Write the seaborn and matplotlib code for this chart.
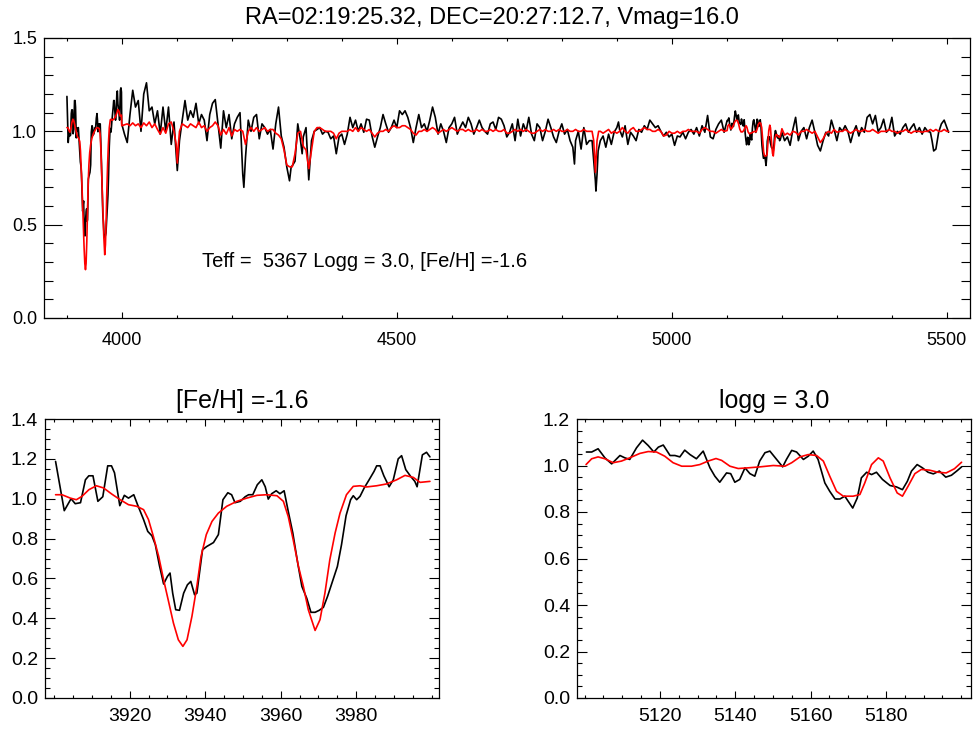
import matplotlib
matplotlib.use("Agg")
import matplotlib.pyplot as plt
import seaborn as sns
from matplotlib.ticker import MultipleLocator, FixedLocator, FormatStrFormatter

# ---------------- data ----------------
title_main = "RA=02:19:25.32, DEC=20:27:12.7, Vmag=16.0"
title_ca = "[Fe/H] =-1.6"
title_mg = "logg = 3.0"
param_text = "Teff =  5367 Logg = 3.0, [Fe/H] =-1.6"

# Ca II H&K region (observed, black)
ca_wave = [3900.4, 3902.7, 3904.5, 3905.6, 3907.0, 3908.3, 3909.2, 3910.3, 3911.6, 3912.9,
           3914.2, 3915.2, 3916.0, 3917.4, 3918.6, 3919.7, 3921.1, 3922.1, 3923.7, 3924.8,
           3925.9, 3926.8, 3927.9, 3929.0, 3930.0, 3930.7, 3931.4, 3932.2, 3933.2, 3934.3,
           3935.3, 3936.2, 3937.2, 3937.8, 3939.3, 3940.4, 3942.2, 3943.5, 3944.7, 3946.0,
           3947.0, 3947.9, 3949.3, 3950.6, 3951.5, 3952.6, 3953.8, 3955.0, 3955.9, 3956.7,
           3957.6, 3958.8, 3959.8, 3960.9, 3962.0, 3963.2, 3964.5, 3965.6, 3966.9, 3968.0,
           3969.1, 3970.2, 3971.3, 3972.4, 3973.7, 3975.0, 3976.1, 3977.3, 3978.5, 3979.2,
           3980.1, 3981.0, 3982.1, 3983.4, 3984.7, 3985.4, 3986.3, 3987.3, 3988.7, 3989.8,
           3991.1, 3992.0, 3993.1, 3994.4, 3995.5, 3996.1, 3997.5, 3998.6, 3999.5]
ca_obs = [1.187, 0.94, 1.0, 0.975, 0.98, 1.095, 1.115, 1.115, 0.987, 1.01,
          1.165, 1.165, 1.13, 0.965, 1.017, 1.003, 1.02, 0.97, 0.895, 0.836,
          0.814, 0.77, 0.664, 0.572, 0.61, 0.627, 0.526, 0.443, 0.44, 0.526,
          0.568, 0.585, 0.518, 0.526, 0.744, 0.76, 0.78, 0.82, 0.995, 1.03,
          1.02, 0.98, 0.987, 1.01, 1.02, 1.02, 1.07, 1.095, 1.06, 0.998,
          1.025, 1.04, 1.025, 1.04, 0.936, 0.828, 0.677, 0.56, 0.50, 0.43,
          0.43, 0.44, 0.455, 0.51, 0.585, 0.66, 0.77, 0.915, 0.995, 1.015,
          0.995, 1.012, 1.054, 1.095, 1.137, 1.165, 1.165, 1.115, 1.06, 1.095,
          1.2, 1.216, 1.146, 1.112, 1.087, 1.06, 1.22, 1.233, 1.21]
# Ca II H&K region (model, red)
ca_mod_wave = [3900.4, 3902.1, 3904.3, 3905.9, 3907.4, 3909.2, 3911.2, 3913.1, 3915.3, 3917.5,
               3919.7, 3921.9, 3923.7, 3925.0, 3926.3, 3927.7, 3929.0, 3930.3, 3931.6, 3932.9,
               3934.1, 3935.2, 3936.5, 3937.8, 3938.9, 3940.3, 3941.8, 3943.5, 3945.7, 3948.4,
               3951.0, 3953.7, 3956.3, 3959.0, 3960.7, 3962.0, 3963.3, 3964.7, 3966.0, 3967.3,
               3969.1, 3970.4, 3971.7, 3973.0, 3974.4, 3975.7, 3977.4, 3979.2, 3981.0, 3982.7,
               3985.4, 3988.0, 3990.7, 3992.9, 3995.1, 3996.9, 3999.5]
ca_mod = [1.02, 1.02, 1.003, 0.995, 1.012, 1.045, 1.065, 1.054, 1.023, 0.995,
          0.97, 0.962, 0.945, 0.895, 0.81, 0.71, 0.593, 0.485, 0.376, 0.292,
          0.259, 0.292, 0.41, 0.56, 0.71, 0.82, 0.886, 0.928, 0.962, 0.987,
          1.003, 1.017, 1.02, 1.015, 0.987, 0.91, 0.794, 0.66, 0.56, 0.443,
          0.339, 0.393, 0.526, 0.694, 0.828, 0.928, 1.02, 1.062, 1.065, 1.059,
          1.065, 1.074, 1.095, 1.117, 1.107, 1.082, 1.087]

# Mg b region (observed, black)
mg_wave = [5100.5, 5101.9, 5103.6, 5105.4, 5107.2, 5109.4, 5110.7, 5112.0, 5113.8, 5115.4,
           5116.9, 5118.4, 5119.6, 5120.9, 5122.7, 5124.0, 5125.3, 5126.6, 5128.0, 5129.7,
           5131.5, 5133.3, 5134.6, 5135.9, 5137.7, 5138.8, 5139.9, 5141.2, 5142.6, 5143.9,
           5145.2, 5146.5, 5147.9, 5149.2, 5151.0, 5152.6, 5153.6, 5155.0, 5156.3, 5158.1,
           5159.4, 5160.7, 5162.0, 5163.8, 5165.1, 5166.5, 5167.8, 5169.1, 5170.0, 5171.2,
           5172.4, 5173.5, 5174.9, 5176.2, 5177.5, 5179.1, 5181.1, 5182.8, 5184.4, 5185.7,
           5186.8, 5188.3, 5189.7, 5191.2, 5192.6, 5194.2, 5195.9, 5197.4, 5198.8, 5200.1]
mg_obs = [1.058, 1.058, 1.072, 1.033, 1.007, 1.043, 1.033, 1.026, 1.076, 1.109,
          1.086, 1.058, 1.079, 1.088, 1.043, 1.043, 1.037, 1.066, 1.047, 1.029,
          1.062, 0.99, 0.954, 0.928, 0.968, 0.965, 0.928, 0.94, 0.99, 0.965,
          0.954, 1.019, 1.055, 1.062, 1.026, 0.994, 1.026, 1.065, 1.058, 1.026,
          1.04, 1.062, 1.026, 0.925, 0.889, 0.856, 0.856, 0.868, 0.846, 0.817,
          0.86, 0.947, 0.971, 0.961, 0.971, 0.94, 0.914, 0.908, 0.896, 0.932,
          0.976, 1.004, 0.99, 0.971, 0.964, 0.976, 0.95, 0.958, 0.976, 0.994]
# Mg b region (model, red)
mg_mod_wave = [5100.4, 5101.9, 5103.6, 5105.4, 5107.6, 5109.8, 5112.0, 5114.7, 5116.9, 5119.1,
               5121.3, 5123.5, 5125.8, 5128.4, 5130.6, 5132.8, 5134.9, 5136.4, 5138.6, 5140.8,
               5143.5, 5146.5, 5150.1, 5153.2, 5155.0, 5157.2, 5159.4, 5161.6, 5163.4, 5165.1,
               5166.9, 5168.7, 5171.3, 5173.1, 5174.4, 5176.2, 5178.0, 5179.3, 5181.1, 5183.0,
               5184.4, 5185.9, 5187.7, 5189.4, 5191.6, 5193.8, 5196.0, 5198.2, 5200.1]
mg_mod = [1.004, 1.029, 1.037, 1.029, 1.012, 1.019, 1.033, 1.052, 1.06, 1.058,
          1.04, 1.012, 0.997, 0.997, 1.004, 1.019, 1.03, 1.022, 0.997, 0.987,
          0.99, 0.994, 1.0, 0.997, 1.012, 1.037, 1.047, 1.043, 1.019, 0.954,
          0.889, 0.868, 0.868, 0.875, 0.925, 1.004, 1.033, 1.019, 0.947, 0.882,
          0.868, 0.911, 0.965, 0.983, 0.98, 0.971, 0.968, 0.986, 1.014]

# Full-range spectrum between the two zoom windows (observed, black)
mid_wave = [4000, 4005, 4010, 4015, 4020, 4025, 4030, 4035, 4040, 4045, 4050, 4055, 4060, 4065,
            4070, 4075, 4080, 4085, 4090, 4095, 4101, 4105, 4110, 4115, 4120, 4125, 4130, 4135,
            4140, 4145, 4150, 4155, 4160, 4165, 4170, 4175, 4180, 4185, 4190, 4195, 4200, 4205,
            4210, 4215, 4220, 4222, 4225, 4230, 4235, 4240, 4245, 4250, 4255, 4260, 4265, 4270,
            4275, 4280, 4285, 4290, 4295, 4300, 4305, 4308, 4310, 4315, 4320, 4325, 4328, 4330,
            4335, 4340, 4345, 4350, 4355, 4360, 4365, 4370, 4375, 4380, 4385, 4390, 4395, 4400,
            4405, 4410, 4415, 4420, 4425, 4430, 4435, 4440, 4445, 4450, 4455, 4460, 4465, 4470,
            4475, 4480, 4485, 4490, 4495, 4500, 4505, 4510, 4515, 4520, 4525, 4530, 4535, 4540,
            4545, 4550, 4555, 4560, 4565, 4570, 4575, 4580, 4585, 4590, 4595, 4600, 4605, 4610,
            4615, 4620, 4625, 4630, 4635, 4640, 4645, 4650, 4655, 4660, 4665, 4670, 4675, 4680,
            4685, 4690, 4695, 4700, 4705, 4710, 4715, 4720, 4725, 4730, 4735, 4740, 4745, 4750,
            4755, 4760, 4765, 4770, 4775, 4780, 4785, 4790, 4795, 4800, 4805, 4810, 4815, 4820,
            4823, 4825, 4830, 4835, 4840, 4845, 4850, 4855, 4858, 4861, 4862, 4864, 4866, 4870,
            4875, 4880, 4885, 4890, 4895, 4900, 4903, 4905, 4910, 4915, 4920, 4925, 4930, 4935,
            4940, 4945, 4950, 4955, 4960, 4965, 4970, 4975, 4980, 4985, 4990, 4995, 5000, 5005,
            5010, 5015, 5020, 5025, 5030, 5035, 5040, 5045, 5050, 5055, 5060, 5065, 5070, 5075,
            5080, 5085, 5090, 5095]
mid_obs = [1.04, 0.985, 0.94, 1.09, 1.22, 1.13, 1.165, 1.0, 1.2, 1.26, 1.11, 1.13, 1.04, 1.11,
           0.985, 1.13, 1.0, 1.13, 0.93, 1.05, 0.79, 0.95, 1.06, 1.165, 1.06, 1.11, 1.075, 1.15,
           1.04, 1.09, 1.06, 0.95, 1.09, 1.15, 1.17, 1.04, 0.91, 1.11, 1.02, 1.09, 0.96, 1.04,
           1.075, 1.10, 0.77, 0.70, 0.86, 1.06, 1.0, 1.075, 1.09, 0.96, 1.04, 1.02, 0.985, 1.01,
           0.905, 1.04, 1.13, 0.975, 0.915, 0.81, 0.735, 0.81, 0.815, 0.84, 1.04, 0.95, 0.88, 0.97,
           1.02, 0.74, 0.95, 1.0, 1.01, 1.02, 0.985, 1.0, 0.995, 0.96, 0.975, 0.88, 0.97, 0.985,
           0.93, 0.985, 1.075, 1.02, 1.06, 1.0, 1.04, 0.995, 1.065, 1.06, 0.975, 0.915, 0.97, 1.02,
           1.09, 1.04, 0.995, 1.02, 1.06, 1.02, 1.11, 1.09, 1.11, 1.075, 1.02, 0.94, 1.02, 1.09,
           1.02, 1.04, 1.0, 1.06, 1.13, 1.075, 0.985, 1.04, 1.0, 0.94, 1.02, 1.04, 1.075, 0.985,
           1.02, 1.05, 1.02, 1.075, 1.04, 0.985, 1.02, 1.06, 1.02, 1.0, 0.985, 1.04, 1.05, 1.01,
           1.075, 1.065, 1.03, 0.97, 0.995, 1.04, 0.95, 1.065, 0.975, 1.04, 1.0, 1.075, 0.985, 0.95,
           1.04, 1.02, 0.95, 1.0, 1.065, 1.02, 0.97, 0.94, 1.0, 1.04, 0.985, 1.01, 0.95, 0.915,
           0.825, 0.95, 1.0, 0.905, 1.02, 0.93, 0.95, 0.95, 0.84, 0.735, 0.68, 0.77, 0.895, 0.95,
           0.975, 0.915, 0.985, 0.93, 0.995, 1.02, 1.05, 1.01, 0.97, 1.03, 0.93, 0.995, 0.975, 0.95,
           1.01, 0.995, 1.03, 1.01, 1.06, 1.04, 1.02, 1.03, 1.0, 0.975, 0.995, 0.97, 0.985, 0.925,
           0.975, 0.97, 0.995, 0.96, 0.995, 1.01, 0.985, 1.02, 0.975, 1.03, 0.995, 1.085, 0.97, 0.96,
           1.01, 1.04, 1.06, 0.995]
# Model between the two zoom windows (red)
mid_mod_wave = [4000, 4005, 4010, 4015, 4020, 4025, 4030, 4035, 4040, 4045, 4050, 4055, 4060, 4065,
                4070, 4075, 4080, 4085, 4090, 4095, 4099, 4101, 4103, 4105, 4110, 4115, 4120, 4125,
                4130, 4135, 4140, 4145, 4150, 4155, 4160, 4165, 4170, 4175, 4180, 4185, 4190, 4195,
                4200, 4205, 4210, 4215, 4220, 4225, 4230, 4235, 4240, 4245, 4250, 4255, 4260, 4265,
                4270, 4275, 4280, 4285, 4290, 4295, 4300, 4305, 4310, 4315, 4320, 4325, 4330, 4335,
                4340, 4345, 4350, 4355, 4360, 4365, 4370, 4375, 4380, 4385, 4390, 4395, 4400, 4405,
                4410, 4415, 4420, 4425, 4430, 4435, 4440, 4445, 4450, 4455, 4460, 4465, 4470, 4475,
                4480, 4485, 4490, 4495, 4500, 4505, 4510, 4515, 4520, 4525, 4530, 4535, 4540, 4545,
                4550, 4555, 4560, 4565, 4570, 4575, 4580, 4585, 4590, 4595, 4600, 4605, 4610, 4615,
                4620, 4625, 4630, 4635, 4640, 4645, 4650, 4655, 4660, 4665, 4670, 4675, 4680, 4685,
                4690, 4695, 4700, 4705, 4710, 4715, 4720, 4725, 4730, 4735, 4740, 4745, 4750, 4755,
                4760, 4765, 4770, 4775, 4780, 4785, 4790, 4795, 4800, 4805, 4810, 4815, 4820, 4825,
                4830, 4835, 4840, 4845, 4850, 4855, 4858, 4861, 4864, 4867, 4870, 4875, 4880, 4885,
                4890, 4895, 4900, 4905, 4910, 4915, 4920, 4925, 4930, 4935, 4940, 4945, 4950, 4955,
                4960, 4965, 4970, 4975, 4980, 4985, 4990, 4995, 5000, 5005, 5010, 5015, 5020, 5025,
                5030, 5035, 5040, 5045, 5050, 5055, 5060, 5065, 5070, 5075, 5080, 5085, 5090, 5095]
mid_mod = [1.03, 1.035, 1.04, 1.03, 1.045, 1.03, 1.04, 1.02, 1.045, 1.03, 1.05, 1.02, 1.04, 1.01,
           0.985, 1.02, 0.99, 1.04, 1.05, 1.0, 0.93, 0.83, 0.93, 1.0, 1.04, 1.03, 1.02, 1.04,
           1.03, 1.02, 1.05, 1.02, 1.03, 1.0, 1.02, 1.03, 1.05, 1.03, 0.98, 1.01, 0.985, 1.02,
           0.975, 1.01, 1.0, 1.01, 1.0, 0.93, 1.0, 1.02, 1.0, 1.02, 1.0, 1.01, 1.02, 1.0,
           1.01, 1.01, 0.99, 0.98, 0.96, 0.9, 0.82, 0.81, 0.81, 0.88, 0.99, 1.0, 0.92, 0.9,
           0.80, 0.9, 1.0, 1.02, 1.02, 1.01, 1.0, 1.0, 1.0, 0.99, 0.96, 0.99, 1.0, 1.0,
           1.0, 1.01, 1.0, 1.02, 1.0, 1.02, 1.01, 1.0, 1.01, 0.99, 0.97, 0.99, 1.0, 1.0,
           1.01, 1.0, 1.02, 1.03, 1.02, 1.02, 1.03, 1.03, 1.02, 1.01, 0.99, 0.98, 1.0, 1.0,
           1.01, 1.0, 1.01, 1.02, 1.01, 0.99, 1.0, 1.01, 1.0, 1.01, 1.02, 1.01, 1.0, 1.01,
           1.01, 1.0, 1.01, 1.0, 1.0, 1.01, 1.0, 1.01, 1.0, 1.0, 1.01, 1.0, 1.01, 1.0,
           1.0, 1.01, 0.99, 0.99, 1.0, 1.01, 1.0, 1.01, 1.0, 1.01, 1.0, 0.99, 0.99, 1.0,
           1.01, 1.0, 1.01, 1.0, 1.0, 1.01, 1.0, 1.01, 1.0, 1.0, 1.01, 1.0, 1.0, 1.01,
           1.0, 1.0, 1.01, 1.0, 1.0, 1.0, 0.95, 0.78, 0.95, 1.0, 1.0, 0.99, 1.0, 1.01,
           0.99, 1.0, 0.99, 1.0, 1.02, 1.0, 0.99, 1.01, 1.02, 1.0, 1.0, 1.01, 1.02, 1.01,
           1.01, 1.0, 1.0, 1.01, 1.0, 0.975, 0.98, 1.0, 0.99, 0.99, 1.0, 0.99, 1.0, 1.0,
           1.01, 1.0, 1.0, 1.0, 0.99, 1.01, 1.02, 1.01, 1.0, 1.0, 0.99, 1.0, 1.01, 1.0]

# Red end of the spectrum (observed, black)
red_wave = [5205, 5210, 5215, 5220, 5225, 5230, 5235, 5240, 5245, 5250, 5255, 5260, 5265, 5270,
            5275, 5280, 5285, 5290, 5295, 5300, 5305, 5310, 5315, 5320, 5325, 5330, 5335, 5340,
            5345, 5350, 5355, 5360, 5365, 5370, 5375, 5380, 5385, 5390, 5395, 5400, 5405, 5410,
            5415, 5420, 5425, 5430, 5435, 5440, 5445, 5450, 5455, 5460, 5465, 5470, 5473, 5476,
            5480, 5485, 5490, 5495, 5500, 5503]
red_obs = [0.95, 0.97, 0.925, 1.01, 1.075, 0.95, 1.0, 1.02, 0.96, 1.02, 1.06, 0.995, 0.925, 0.895,
           0.95, 0.995, 0.975, 1.06, 1.01, 0.95, 1.02, 1.0, 1.03, 1.0, 0.94, 0.995, 1.03, 0.975,
           1.02, 0.995, 1.075, 1.09, 1.04, 1.085, 1.0, 1.02, 1.065, 0.995, 1.01, 1.075, 0.975, 1.0,
           0.985, 1.02, 1.04, 0.995, 1.02, 1.04, 0.995, 1.02, 0.985, 1.02, 1.0, 0.995, 0.95, 0.895,
           0.905, 0.995, 1.04, 1.06, 1.02, 0.995]
red_mod_wave = [5205, 5210, 5215, 5220, 5225, 5230, 5235, 5240, 5245, 5250, 5255, 5260, 5265, 5270,
                5275, 5280, 5285, 5290, 5295, 5300, 5305, 5310, 5315, 5320, 5325, 5330, 5335, 5340,
                5345, 5350, 5355, 5360, 5365, 5370, 5375, 5380, 5385, 5390, 5395, 5400, 5405, 5410,
                5415, 5420, 5425, 5430, 5435, 5440, 5445, 5450, 5455, 5460, 5465, 5470, 5475, 5480,
                5485, 5490, 5495, 5500, 5503]
red_mod = [0.98, 0.99, 0.98, 1.0, 0.995, 0.98, 1.0, 1.0, 1.01, 1.0, 0.99, 1.0, 0.97, 0.94,
           0.96, 0.99, 1.0, 0.99, 1.01, 0.995, 1.0, 1.0, 1.01, 1.0, 0.99, 1.0, 1.01, 1.0,
           1.0, 1.01, 1.0, 1.0, 1.01, 1.0, 0.99, 1.0, 1.0, 1.0, 1.01, 1.0, 1.0, 0.99,
           1.0, 1.0, 1.01, 1.0, 0.99, 1.0, 1.0, 1.0, 0.995, 1.0, 1.0, 1.01, 1.0, 1.01,
           1.0, 1.0, 1.01, 1.0, 1.0]

# ---------------- style ----------------
sns.set_theme(style="ticks")
plt.rcParams["font.family"] = ["Liberation Sans", "DejaVu Sans"]
plt.rcParams["axes.edgecolor"] = "black"
plt.rcParams["xtick.color"] = "black"
plt.rcParams["ytick.color"] = "black"
plt.rcParams["text.color"] = "black"

W, H = 977, 729
fig = plt.figure(figsize=(W / 100, H / 100), dpi=100)
fig.patch.set_facecolor("white")


def rect(x0, y0, x1, y1):
    return [x0 / W, 1 - y1 / H, (x1 - x0) / W, (y1 - y0) / H]


ax_top = fig.add_axes(rect(44, 38, 970, 318))
ax_ca = fig.add_axes(rect(45, 419, 439, 698))
ax_mg = fig.add_axes(rect(577, 419, 971, 698))

LW = 1.2


def draw(ax, w, f, color):
    sns.lineplot(x=w, y=f, ax=ax, color=color, linewidth=LW,
                 estimator=None, sort=False, legend=False)


obs_all_w = ca_wave + mid_wave + mg_wave + red_wave
obs_all_f = ca_obs + mid_obs + mg_obs + red_obs
mod_all_w = ca_mod_wave + mid_mod_wave + mg_mod_wave + red_mod_wave
mod_all_f = ca_mod + mid_mod + mg_mod + red_mod

draw(ax_top, obs_all_w, obs_all_f, "black")
draw(ax_top, mod_all_w, mod_all_f, "#ff0000")
draw(ax_ca, ca_wave, ca_obs, "black")
draw(ax_ca, ca_mod_wave, ca_mod, "#ff0000")
draw(ax_mg, mg_wave, mg_obs, "black")
draw(ax_mg, mg_mod_wave, mg_mod, "#ff0000")


def style(ax, xlim, ylim, xmaj, xmin, ymaj, ymin, fs, xlen, ylen, xpad):
    ax.set_xlim(*xlim)
    ax.set_ylim(*ylim)
    ax.xaxis.set_major_locator(FixedLocator(xmaj))
    ax.xaxis.set_minor_locator(MultipleLocator(xmin))
    ax.yaxis.set_major_locator(FixedLocator(ymaj))
    ax.yaxis.set_minor_locator(MultipleLocator(ymin))
    ax.yaxis.set_major_formatter(FormatStrFormatter("%.1f"))
    ax.xaxis.set_major_formatter(FormatStrFormatter("%d"))
    ax.set_xlabel("")
    ax.set_ylabel("")
    ax.tick_params(which="both", direction="in", top=True, right=True,
                   labelsize=fs, width=0.8, color="black")
    ax.tick_params(axis="x", which="major", length=xlen[0], pad=xpad)
    ax.tick_params(axis="x", which="minor", length=xlen[1])
    ax.tick_params(axis="y", which="major", length=ylen[0], pad=5)
    ax.tick_params(axis="y", which="minor", length=ylen[1])
    for s in ax.spines.values():
        s.set_visible(True)
        s.set_color("black")
        s.set_linewidth(0.9)
    ax.set_facecolor("white")
    ax.grid(False)


style(ax_top, (3858.7, 5542), (0, 1.5), [4000, 4500, 5000, 5500], 100,
      [0.0, 0.5, 1.0, 1.5], 0.1, 13, (4.5, 2.5), (13, 6.5), 10)
style(ax_ca, (3897.6, 4001.9), (0, 1.4), [3920, 3940, 3960, 3980], 5,
      [0.0, 0.2, 0.4, 0.6, 0.8, 1.0, 1.2, 1.4], 0.05, 14, (5, 2.5), (7.5, 3.7), 7)
style(ax_mg, (5098.0, 5202.6), (0, 1.2), [5120, 5140, 5160, 5180], 5,
      [0.0, 0.2, 0.4, 0.6, 0.8, 1.0, 1.2], 0.05, 14, (5, 2.5), (7.5, 3.7), 7)

ax_top.text(4146, 0.305, param_text, fontsize=14.5, ha="left", va="center")

fig.text(492 / W, 1 - 18 / H, title_main, fontsize=17, ha="center", va="center")
fig.text(242 / W, 1 - 401 / H, title_ca, fontsize=18, ha="center", va="center")
fig.text(774 / W, 1 - 401 / H, title_mg, fontsize=18, ha="center", va="center")

fig.savefig("out.png", dpi=100)
